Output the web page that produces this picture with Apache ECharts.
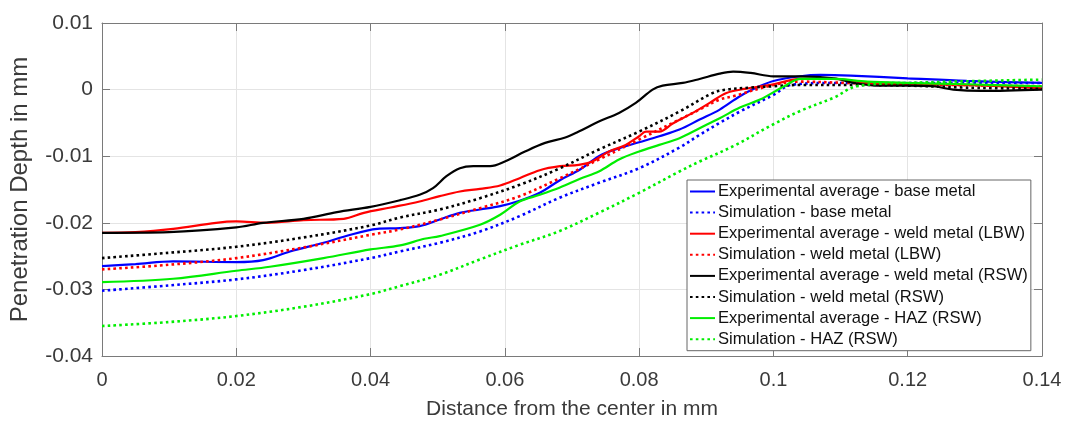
<!DOCTYPE html>
<html><head><meta charset="utf-8">
<script src="https://cdn.jsdelivr.net/npm/echarts@6/dist/echarts.min.js"></script>
<style>html,body{margin:0;padding:0;background:#fff}#c{width:1069px;height:425px}</style>
</head><body><div id="c"></div>
<script>
// ---- data (x in mm, y in mm) ----
const expBase = [[0,-0.0265],[0.005,-0.0262],[0.0106,-0.0258],[0.02,-0.0259],[0.024,-0.0256],[0.028,-0.0243],[0.033,-0.023],[0.036,-0.0221],[0.041,-0.0209],[0.0444,-0.0208],[0.0473,-0.0205],[0.0503,-0.0195],[0.0533,-0.0185],[0.0563,-0.018],[0.0593,-0.0175],[0.0622,-0.0167],[0.0652,-0.0155],[0.0682,-0.0136],[0.0712,-0.012],[0.074,-0.01],[0.077,-0.0088],[0.08,-0.0079],[0.083,-0.007],[0.086,-0.006],[0.089,-0.0045],[0.092,-0.003],[0.095,-0.001],[0.0975,0.0003],[0.1,0.0013],[0.104,0.002],[0.107,0.0022],[0.1115,0.0021],[0.12,0.0017],[0.1288,0.0013],[0.14,0.001]];
const simBase = [[0,-0.0302],[0.01,-0.0294],[0.02,-0.0285],[0.03,-0.0271],[0.04,-0.0253],[0.0444,-0.0243],[0.0503,-0.023],[0.0563,-0.0213],[0.0622,-0.019],[0.068,-0.0163],[0.074,-0.014],[0.08,-0.0118],[0.086,-0.0087],[0.089,-0.0068],[0.092,-0.005],[0.095,-0.0033],[0.1,-0.0008],[0.1026,0.0007],[0.109,0.001],[0.12,0.001],[0.14,0.001]];
const expLBW = [[0,-0.0215],[0.005,-0.0214],[0.0106,-0.0209],[0.017,-0.02],[0.02,-0.0198],[0.0245,-0.02],[0.03,-0.0196],[0.036,-0.0194],[0.039,-0.0185],[0.043,-0.0177],[0.0473,-0.0168],[0.0503,-0.016],[0.0533,-0.0153],[0.0563,-0.0149],[0.0593,-0.0144],[0.0622,-0.0133],[0.0652,-0.0121],[0.0682,-0.0115],[0.071,-0.0113],[0.073,-0.0108],[0.0755,-0.0093],[0.078,-0.0083],[0.08,-0.007],[0.081,-0.0063],[0.083,-0.0063],[0.085,-0.0051],[0.088,-0.0035],[0.0905,-0.002],[0.093,-0.0005],[0.0957,0.0001],[0.1,0.0008],[0.104,0.0016],[0.109,0.0016],[0.114,0.001],[0.12,0.0008],[0.1288,0.0007],[0.14,0.0002]];
const simLBW = [[0,-0.027],[0.01,-0.0263],[0.02,-0.0253],[0.03,-0.0237],[0.04,-0.0218],[0.0444,-0.021],[0.0503,-0.0195],[0.0563,-0.0178],[0.0622,-0.016],[0.068,-0.0134],[0.074,-0.0105],[0.08,-0.0075],[0.086,-0.0045],[0.089,-0.003],[0.092,-0.0015],[0.094,-0.001],[0.1,0.0007],[0.104,0.0012],[0.111,0.001],[0.12,0.0008],[0.14,0.0005]];
const expRSW = [[0,-0.0215],[0.01,-0.0214],[0.02,-0.0207],[0.024,-0.02],[0.03,-0.0194],[0.035,-0.0184],[0.04,-0.0176],[0.0444,-0.0166],[0.0473,-0.0158],[0.0493,-0.0148],[0.0513,-0.013],[0.0533,-0.0118],[0.0553,-0.0115],[0.0578,-0.0115],[0.06,-0.0108],[0.063,-0.0093],[0.066,-0.008],[0.069,-0.0072],[0.071,-0.0063],[0.074,-0.0048],[0.077,-0.0035],[0.0795,-0.002],[0.082,0],[0.0835,0.0006],[0.0865,0.001],[0.089,0.0016],[0.092,0.0024],[0.094,0.0027],[0.0966,0.0025],[0.1,0.002],[0.104,0.002],[0.109,0.0017],[0.112,0.001],[0.1154,0.0006],[0.12,0.0006],[0.1238,0.0005],[0.1268,0],[0.131,-0.0002],[0.14,0]];
const simRSW = [[0,-0.0253],[0.01,-0.0245],[0.02,-0.0236],[0.03,-0.0222],[0.04,-0.0204],[0.0444,-0.0192],[0.0503,-0.018],[0.0563,-0.0163],[0.0622,-0.0143],[0.068,-0.0119],[0.074,-0.009],[0.08,-0.0063],[0.086,-0.0033],[0.091,-0.0005],[0.093,0],[0.0966,0.0003],[0.1,0.0005],[0.104,0.0007],[0.112,0.0007],[0.12,0.0006],[0.1288,0.0003],[0.14,0.0001]];
const expHAZ = [[0,-0.0289],[0.0106,-0.0284],[0.02,-0.0272],[0.025,-0.0266],[0.033,-0.0253],[0.04,-0.024],[0.0444,-0.0234],[0.048,-0.0224],[0.0503,-0.022],[0.0563,-0.0203],[0.0593,-0.0188],[0.0622,-0.0168],[0.0652,-0.0158],[0.0682,-0.0147],[0.0712,-0.0134],[0.074,-0.0123],[0.077,-0.0105],[0.08,-0.0093],[0.083,-0.0083],[0.086,-0.0073],[0.089,-0.0058],[0.092,-0.0043],[0.095,-0.0027],[0.098,-0.0015],[0.1016,0.0005],[0.104,0.0016],[0.109,0.0016],[0.114,0.0012],[0.12,0.001],[0.1288,0.0008],[0.14,0.0005]];
const simHAZ = [[0,-0.0355],[0.01,-0.0349],[0.02,-0.034],[0.03,-0.0326],[0.04,-0.0307],[0.0444,-0.0295],[0.0503,-0.0278],[0.0563,-0.0255],[0.0622,-0.0233],[0.068,-0.0213],[0.074,-0.0185],[0.08,-0.0155],[0.086,-0.0123],[0.089,-0.0108],[0.094,-0.0085],[0.1,-0.0052],[0.104,-0.0032],[0.109,-0.0012],[0.1124,0.0005],[0.12,0.001],[0.14,0.0015]];

const seriesNames = [
  'Experimental average - base metal','Simulation - base metal',
  'Experimental average - weld metal (LBW)','Simulation - weld metal (LBW)',
  'Experimental average - weld metal (RSW)','Simulation - weld metal (RSW)',
  'Experimental average - HAZ (RSW)','Simulation - HAZ (RSW)'
];
const seriesData = [expBase, simBase, expLBW, simLBW, expRSW, simRSW, expHAZ, simHAZ];
const seriesColors = ['#0000ff','#0000ff','#ff0000','#ff0000','#000000','#000000','#00ee00','#00ee00'];
const seriesDotted = [false,true,false,true,false,true,false,true];

const xMin = 0, xMax = 0.14, xStep = 0.02;
const yMin = -0.04, yMax = 0.01, yStep = 0.01;
const xTitle = 'Distance from the center in mm';
const yTitle = 'Penetration Depth in mm';

const axisCol = '#7a7a7a';
const labelCol = '#3a3a3a';
const sans = "'Liberation Sans',Arial,sans-serif";
const fmt = v => (+v.toFixed(4)).toString();

const chart = echarts.init(document.getElementById('c'), null, {renderer:'canvas'});
chart.setOption({
  animation: false,
  backgroundColor: '#fff',
  grid: {left: 102, right: 27, top: 23, bottom: 68},
  legend: {
    orient: 'vertical', left: 687, top: 180,
    backgroundColor: '#fff', borderColor: '#666', borderWidth: 1,
    padding: [3, 3, 3, 2], itemWidth: 25, itemHeight: 14, itemGap: 4.1,
    itemStyle: {opacity: 0},
    textStyle: {fontFamily: sans, fontSize: 16.6, color: '#111', padding:[0,0,0,-2]},
    data: seriesNames
  },
  xAxis: [{
    type: 'value', min: xMin, max: xMax, interval: xStep, position: 'bottom',
    name: xTitle, nameLocation: 'middle', nameGap: 43,
    nameTextStyle: {fontFamily: sans, fontSize: 21, color: labelCol},
    axisLine: {show: true, onZero: false, lineStyle: {color: axisCol, width: 1}},
    axisTick: {show: true, inside: true, length: 8, lineStyle: {color: axisCol}},
    axisLabel: {fontFamily: sans, fontSize: 20, color: labelCol, margin: 14, formatter: fmt},
    splitLine: {show: true, lineStyle: {color: '#e4e4e4', width: 1}}
  },{
    type: 'value', min: xMin, max: xMax, interval: xStep, position: 'top',
    axisLine: {show: true, onZero: false, lineStyle: {color: axisCol, width: 1}},
    axisTick: {show: true, inside: true, length: 8, lineStyle: {color: axisCol}},
    axisLabel: {show: false}, splitLine: {show: false}
  }],
  yAxis: [{
    type: 'value', min: yMin, max: yMax, interval: yStep, position: 'left',
    name: yTitle, nameLocation: 'middle', nameGap: 70, nameRotate: 90,
    nameTextStyle: {fontFamily: sans, fontSize: 24, color: labelCol},
    axisLine: {show: true, onZero: false, lineStyle: {color: axisCol, width: 1}},
    axisTick: {show: true, inside: true, length: 8, lineStyle: {color: axisCol}},
    axisLabel: {fontFamily: sans, fontSize: 21, color: labelCol, margin: 9, formatter: fmt},
    splitLine: {show: true, lineStyle: {color: '#e4e4e4', width: 1}}
  },{
    type: 'value', min: yMin, max: yMax, interval: yStep, position: 'right',
    axisLine: {show: true, onZero: false, lineStyle: {color: axisCol, width: 1}},
    axisTick: {show: true, inside: true, length: 8, lineStyle: {color: axisCol}},
    axisLabel: {show: false}, splitLine: {show: false}
  }],
  series: seriesNames.map((n, i) => ({
    name: n, type: 'line', data: seriesData[i], xAxisIndex: 0, yAxisIndex: 0,
    smooth: 0.35, symbol: 'none', showSymbol: false,
    color: seriesColors[i],
    lineStyle: {color: seriesColors[i], width: seriesDotted[i] ? 2.6 : 2.2,
      type: seriesDotted[i] ? [2.6, 3.2] : 'solid', cap: 'butt'},
    z: 2 + i
  }))
});
</script>
</body></html>
